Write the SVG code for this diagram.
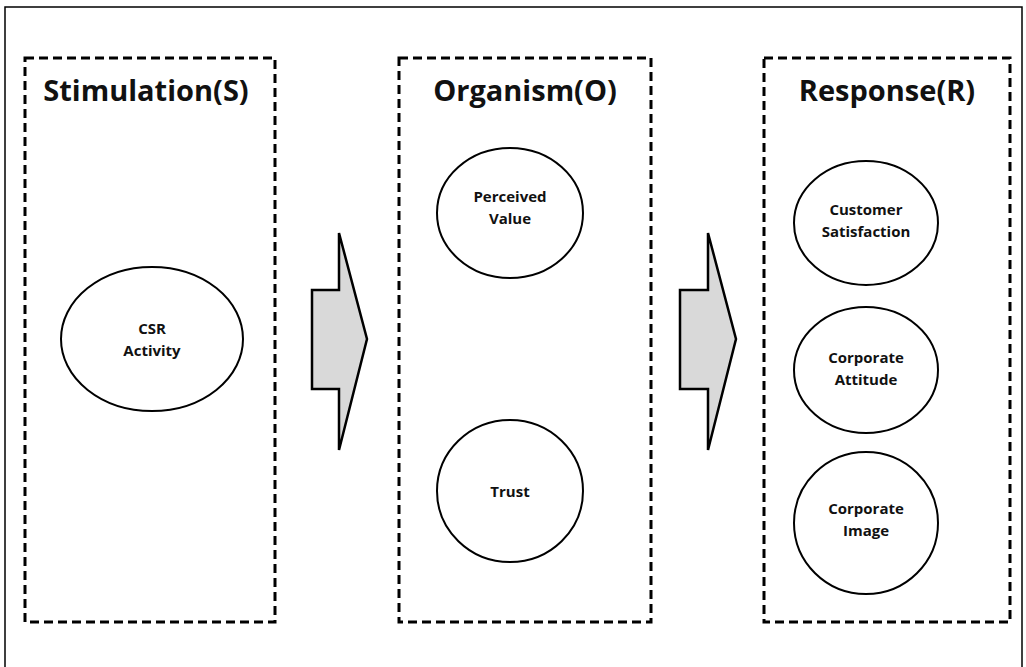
<svg xmlns="http://www.w3.org/2000/svg" width="1026" height="667" viewBox="0 0 1026 667">
<style>
.frame{fill:none;stroke:#000;stroke-width:1.5}
.box{fill:none;stroke:#000;stroke-width:3;stroke-dasharray:9,5}
.title{font-family:"Open Sans","Noto Sans",sans-serif;font-weight:bold;font-size:29px;fill:#111;text-anchor:middle}
.ell{fill:#fff;stroke:#000;stroke-width:2}
.lbl{font-family:"Open Sans","Noto Sans",sans-serif;font-weight:bold;font-size:15px;fill:#111;text-anchor:middle}
.arrow{fill:#d9d9d9;stroke:#000;stroke-width:2.5;stroke-linejoin:miter}
</style>
<rect width="1026" height="667" fill="#fff"/>
<rect class="frame" x="5" y="7" width="1017" height="670"/>
<g id="stimulation">
<rect class="box" x="25" y="58" width="250" height="564"/>
<text class="title" x="146" y="101">Stimulation(S)</text>
</g>
<g id="organism">
<rect class="box" x="399" y="58" width="252" height="564"/>
<text class="title" x="525" y="101">Organism(O)</text>
</g>
<g id="response">
<rect class="box" x="764" y="58" width="246" height="564"/>
<text class="title" x="887" y="101">Response(R)</text>
</g>
<g id="csr">
<ellipse class="ell" cx="152" cy="339" rx="91" ry="72"/>
<text class="lbl" x="152" y="334">CSR</text>
<text class="lbl" x="152" y="356">Activity</text>
</g>
<g id="perceived-value">
<ellipse class="ell" cx="510" cy="213" rx="73" ry="65"/>
<text class="lbl" x="510" y="202">Perceived</text>
<text class="lbl" x="510" y="224">Value</text>
</g>
<g id="trust">
<ellipse class="ell" cx="510" cy="491" rx="73" ry="71"/>
<text class="lbl" x="510" y="497">Trust</text>
</g>
<g id="customer-satisfaction">
<ellipse class="ell" cx="866" cy="223" rx="72" ry="62"/>
<text class="lbl" x="866" y="215">Customer</text>
<text class="lbl" x="866" y="237">Satisfaction</text>
</g>
<g id="corporate-attitude">
<ellipse class="ell" cx="866" cy="370" rx="72" ry="63"/>
<text class="lbl" x="866" y="363">Corporate</text>
<text class="lbl" x="866" y="385">Attitude</text>
</g>
<g id="corporate-image">
<ellipse class="ell" cx="866" cy="523" rx="72" ry="71"/>
<text class="lbl" x="866" y="514">Corporate</text>
<text class="lbl" x="866" y="536">Image</text>
</g>
<g id="connectors">
<polygon class="arrow" points="312,290 339,290 339,233 367,339 339,450 339,389 312,389"/>
<polygon class="arrow" points="680,290 708,290 708,233 736,339 708,450 708,389 680,389"/>
</g>
</svg>
